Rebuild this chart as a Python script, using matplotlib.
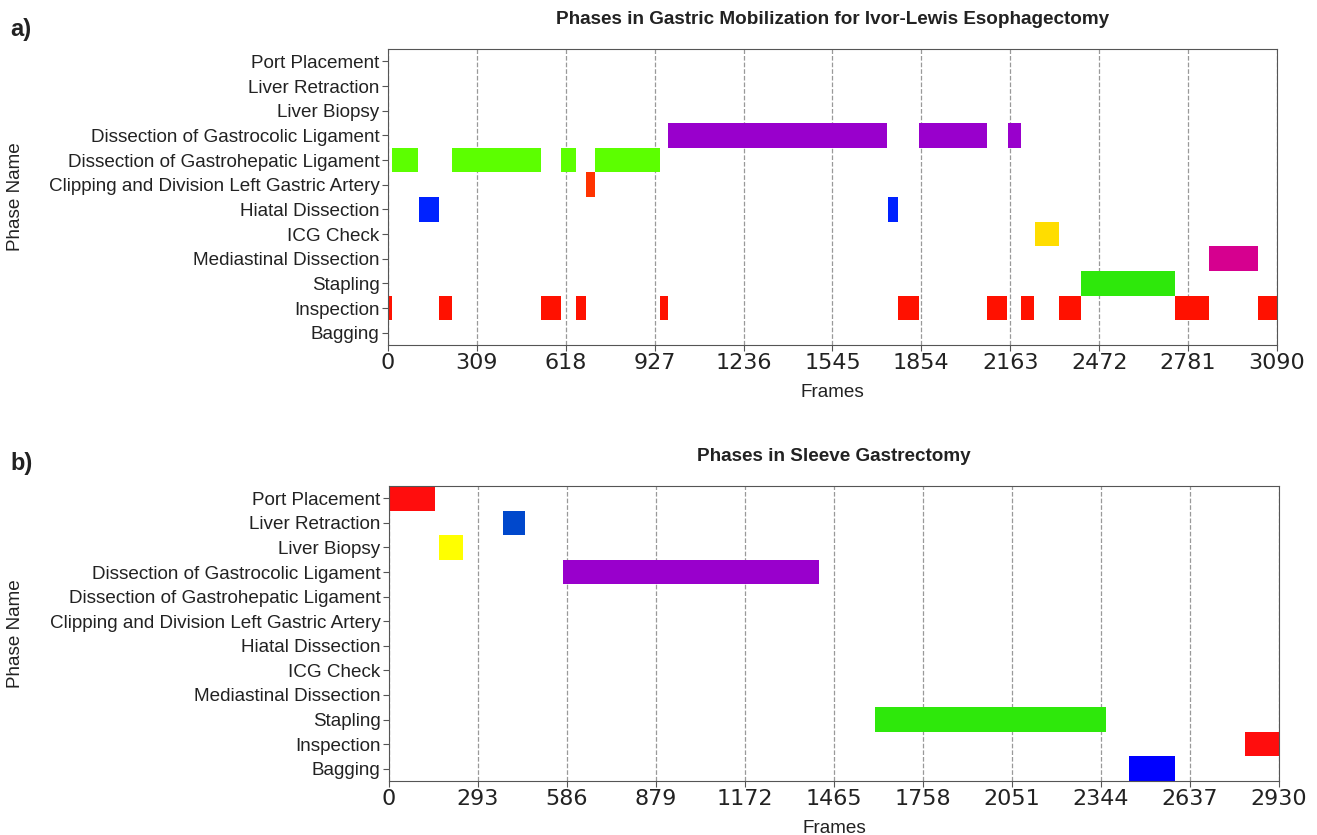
import numpy as np
import matplotlib
matplotlib.use("Agg")
import matplotlib.pyplot as plt

phases = ["Port Placement", "Liver Retraction", "Liver Biopsy",
          "Dissection of Gastrocolic Ligament", "Dissection of Gastrohepatic Ligament",
          "Clipping and Division Left Gastric Artery", "Hiatal Dissection",
          "ICG Check", "Mediastinal Dissection", "Stapling", "Inspection", "Bagging"]

# a) Ivor-Lewis: segments (phase, start frame, end frame)
a_phase = ["Dissection of Gastrohepatic Ligament"] * 4 + \
          ["Clipping and Division Left Gastric Artery"] + \
          ["Hiatal Dissection"] * 2 + \
          ["Dissection of Gastrocolic Ligament"] * 3 + \
          ["ICG Check", "Mediastinal Dissection", "Stapling"] + \
          ["Inspection"] * 11
a_start = [14, 222, 601, 721,
           690,
           107, 1737,
           975, 1847, 2154,
           2248, 2854, 2408,
           0, 177, 533, 655, 945, 1774, 2081, 2200, 2331, 2734, 3025]
a_end = [104, 533, 655, 945,
         720,
         177, 1774,
         1734, 2081, 2200,
         2331, 3025, 2734,
         15, 221, 601, 690, 975, 1847, 2153, 2244, 2408, 2854, 3090]
a_colors = {
    "Dissection of Gastrohepatic Ligament": "#5cff00",
    "Clipping and Division Left Gastric Artery": "#ff3300",
    "Hiatal Dissection": "#0022ff",
    "Dissection of Gastrocolic Ligament": "#9900cc",
    "ICG Check": "#ffdd00",
    "Mediastinal Dissection": "#d6008f",
    "Stapling": "#2ee80b",
    "Inspection": "#ff1100",
}

# b) Sleeve gastrectomy
b_phase = ["Port Placement", "Liver Retraction", "Liver Biopsy",
           "Dissection of Gastrocolic Ligament", "Stapling", "Inspection", "Bagging"]
b_start = [0, 374, 166, 574, 1600, 2819, 2437]
b_end = [150, 447, 244, 1417, 2360, 2930, 2587]
b_colors = {
    "Port Placement": "#ff0d0d",
    "Liver Retraction": "#0048cc",
    "Liver Biopsy": "#ffff00",
    "Dissection of Gastrocolic Ligament": "#9900cc",
    "Stapling": "#2ee80b",
    "Inspection": "#ff0d0d",
    "Bagging": "#0000ff",
}

a_total = 3090
b_total = 2930

plt.rcParams["font.family"] = ["Liberation Sans", "DejaVu Sans"]


def draw_phases(ax, seg_phase, seg_start, seg_end, colors, total, title):
    ypos = [phases.index(p) for p in seg_phase]
    widths = np.array(seg_end) - np.array(seg_start)
    ax.barh(ypos, widths, left=seg_start, height=1.0,
            color=[colors[p] for p in seg_phase], zorder=2)
    ax.set_yticks(range(len(phases)))
    ax.set_yticklabels(phases, fontsize=13.6, color="#222222")
    ax.set_ylim(len(phases) - 0.5, -0.5)
    ticks = np.linspace(0, total, 11).astype(int)
    ax.set_xticks(ticks)
    ax.set_xticklabels([str(t) for t in ticks], fontsize=16, family="DejaVu Sans",
                       color="#222222")
    ax.set_xlim(0, total)
    ax.grid(axis="x", linestyle="--", color="#999999", linewidth=0.9, zorder=0)
    ax.set_xlabel("Frames", fontsize=13.6, labelpad=8, color="#222222")
    ax.set_ylabel("Phase Name", fontsize=13.6, color="#222222")
    ax.set_title(title, fontsize=13.6, fontweight="bold", pad=18, color="#222222")
    for s in ax.spines.values():
        s.set_color("#555555")
    ax.tick_params(axis="both", colors="#555555", length=4, pad=2)
    ax.tick_params(axis="both", labelcolor="#222222")


fig = plt.figure(figsize=(13.17, 8.35), dpi=100)
ax1 = fig.add_axes([0.2946, 0.5868, 0.675, 0.3545])
ax2 = fig.add_axes([0.2954, 0.0647, 0.6758, 0.3533])

draw_phases(ax1, a_phase, a_start, a_end, a_colors, a_total,
            "Phases in Gastric Mobilization for Ivor-Lewis Esophagectomy")
draw_phases(ax2, b_phase, b_start, b_end, b_colors, b_total,
            "Phases in Sleeve Gastrectomy")

ax1.yaxis.set_label_coords(-0.41, 0.5)
ax2.yaxis.set_label_coords(-0.41, 0.5)

fig.text(0.008, 0.965, "a)", fontsize=17, fontweight="bold", va="center", color="#222222")
fig.text(0.008, 0.445, "b)", fontsize=17, fontweight="bold", va="center", color="#222222")

fig.savefig("out.png", dpi=100)
